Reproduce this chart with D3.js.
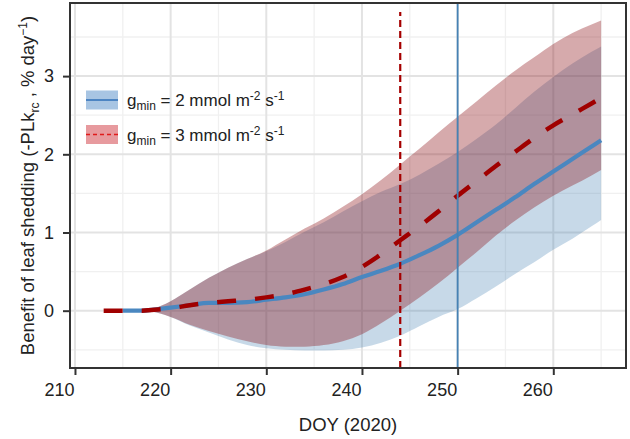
<!DOCTYPE html>
<html><head><meta charset="utf-8">
<script src="https://cdn.jsdelivr.net/npm/d3@7/dist/d3.min.js"></script>
<style>html,body{margin:0;padding:0;background:#fff;}svg{display:block;font-family:"Liberation Sans",Arial,sans-serif;}</style>
</head><body><svg id="c" width="630" height="439"></svg>
<script>
const days      = [213,215,217,218,220,222,224,226,228,230,232,234,236,238,240,242,244,246,248,250,252,254,256,258,260,262,264,265];
const mean2     = [0,0,0,0.01,0.04,0.07,0.1,0.1,0.11,0.14,0.17,0.21,0.27,0.34,0.43,0.51,0.6,0.71,0.83,0.97,1.13,1.29,1.45,1.62,1.78,1.94,2.1,2.18];
const lo2       = [0,0,0,-0.01,-0.08,-0.19,-0.28,-0.37,-0.44,-0.48,-0.5,-0.51,-0.51,-0.5,-0.47,-0.41,-0.32,-0.2,-0.08,0.02,0.16,0.31,0.47,0.62,0.78,0.92,1.08,1.16];
const hi2       = [0,0,0,0.02,0.12,0.27,0.42,0.55,0.66,0.76,0.88,1.01,1.13,1.27,1.4,1.52,1.62,1.74,1.88,2.03,2.2,2.38,2.59,2.8,2.99,3.16,3.31,3.38];
const mean3     = [0,0,0,0.01,0.03,0.07,0.1,0.12,0.14,0.17,0.21,0.27,0.34,0.43,0.56,0.72,0.9,1.08,1.27,1.47,1.66,1.85,2.03,2.21,2.37,2.51,2.65,2.72];
const lo3       = [0,0,0,-0.01,-0.08,-0.18,-0.26,-0.33,-0.39,-0.44,-0.46,-0.46,-0.44,-0.39,-0.3,-0.16,0.0,0.17,0.35,0.55,0.75,0.96,1.15,1.32,1.47,1.6,1.73,1.8];
const hi3       = [0,0,0,0.02,0.12,0.27,0.42,0.55,0.66,0.77,0.91,1.05,1.18,1.33,1.49,1.67,1.87,2.07,2.28,2.48,2.68,2.88,3.07,3.24,3.41,3.55,3.66,3.71];
const vlineDays = [250, 244];
const xTicks = [210,220,230,240,250,260];
const yTicks = [0,1,2,3];
const xMinor = [215,225,235,245,255,265];
const yMinor = [-0.5,0.5,1.5,2.5,3.5];

const svg = d3.select("#c");
const L=70, R=626, T=3, B=368;
const x = d3.scaleLinear().domain([209.48,267.6]).range([L,R]);
const y = d3.scaleLinear().domain([-0.733,3.935]).range([B,T]);

const g = svg.append("g");
// grid
g.selectAll(".mnx").data(xMinor).join("line").attr("x1",d=>x(d)).attr("x2",d=>x(d)).attr("y1",T).attr("y2",B).attr("stroke","#f0f0f0").attr("stroke-width",1.3);
g.selectAll(".mny").data(yMinor).join("line").attr("y1",d=>y(d)).attr("y2",d=>y(d)).attr("x1",L).attr("x2",R).attr("stroke","#f0f0f0").attr("stroke-width",1.3);
g.selectAll(".mjx").data(xTicks).join("line").attr("x1",d=>x(d)).attr("x2",d=>x(d)).attr("y1",T).attr("y2",B).attr("stroke","#e3e3e3").attr("stroke-width",2);
g.selectAll(".mjy").data(yTicks).join("line").attr("y1",d=>y(d)).attr("y2",d=>y(d)).attr("x1",L).attr("x2",R).attr("stroke","#e3e3e3").attr("stroke-width",2);

const rows = days.map((d,i)=>({d, m2:mean2[i], l2:lo2[i], h2:hi2[i], m3:mean3[i], l3:lo3[i], h3:hi3[i]}));
const curve = d3.curveMonotoneX;
const area2 = d3.area().x(r=>x(r.d)).y0(r=>y(r.l2)).y1(r=>y(r.h2)).curve(curve);
const area3 = d3.area().x(r=>x(r.d)).y0(r=>y(r.l3)).y1(r=>y(r.h3)).curve(curve);
g.append("path").attr("d",area2(rows)).attr("fill","#4682b4").attr("fill-opacity",0.3);
g.append("path").attr("d",area3(rows)).attr("fill","#8a0c12").attr("fill-opacity",0.35);

const line2 = d3.line().x(r=>x(r.d)).y(r=>y(r.m2)).curve(curve);
const line3 = d3.line().x(r=>x(r.d)).y(r=>y(r.m3)).curve(curve);
g.append("path").attr("d",line2(rows.filter(r=>r.d>=215))).attr("fill","none").attr("stroke","#4a87c0").attr("stroke-width",4.2);
g.append("path").attr("d",line3(rows)).attr("fill","none").attr("stroke","#a00000").attr("stroke-width",4.5).attr("stroke-dasharray","19,19");

// vertical lines
g.append("line").attr("x1",x(vlineDays[0])).attr("x2",x(vlineDays[0])).attr("y1",T).attr("y2",B).attr("stroke","#4682b4").attr("stroke-width",1.8);
g.append("line").attr("x1",x(vlineDays[1])).attr("x2",x(vlineDays[1])).attr("y1",B).attr("y2",T+9).attr("stroke","#a50000").attr("stroke-width",2.2).attr("stroke-dasharray","7,4");

// panel border
svg.append("rect").attr("x",L).attr("y",T).attr("width",R-L).attr("height",B-T).attr("fill","none").attr("stroke","#333").attr("stroke-width",2);

// axes
const xa = svg.append("g").attr("transform",`translate(0,${B})`).call(d3.axisBottom(x).tickValues(xTicks).tickSize(7).tickPadding(5).tickFormat(d3.format("d")));
xa.select(".domain").remove();
xa.selectAll(".tick line").attr("stroke","#333").attr("stroke-width",2);
xa.selectAll(".tick text").attr("fill","#222").style("font-size","18px").attr("dx",-16).attr("dy","0.9em");
const ya = svg.append("g").attr("transform",`translate(${L},0)`).call(d3.axisLeft(y).tickValues(yTicks).tickSize(7).tickPadding(9).tickFormat(d3.format("d")));
ya.select(".domain").remove();
ya.selectAll(".tick line").attr("stroke","#333").attr("stroke-width",2);
ya.selectAll(".tick text").attr("fill","#222").style("font-size","18px");

// axis titles
svg.append("text").attr("x",(L+R)/2).attr("y",431).attr("text-anchor","middle").attr("fill","#222").style("font-size","18.5px").text("DOY (2020)");
const yt = svg.append("text").attr("transform",`translate(34,${(T+B)/2}) rotate(-90)`).attr("text-anchor","middle").attr("fill","#222").style("font-size","18.5px");
yt.append("tspan").text("Benefit of leaf shedding (-PLk");
yt.append("tspan").attr("dy",5).style("font-size","12px").text("rc");
yt.append("tspan").attr("dy",-5).text(" , % day");
yt.append("tspan").attr("dy",-7).style("font-size","12px").text("−1");
yt.append("tspan").attr("dy",7).text(")");

// legend
const legendLabels = ["2","3"];
const legendFill = ["#a8c5e3","#e79a9e"];
const legendStroke = ["#2f6fb8","#e01b1b"];
const legendDash = [null,"4,3"];
const leg = svg.append("g");
legendLabels.forEach((lab,i)=>{
  const cy = 100 + i*34.5;
  leg.append("rect").attr("x",86).attr("y",cy-9.5).attr("width",32).attr("height",19).attr("fill",legendFill[i]);
  leg.append("line").attr("x1",86).attr("x2",118).attr("y1",cy).attr("y2",cy).attr("stroke",legendStroke[i]).attr("stroke-width",1.5).attr("stroke-dasharray",legendDash[i]);
  const t = leg.append("text").attr("x",127).attr("y",cy+6).attr("fill","#222").style("font-size","17px");
  t.append("tspan").text("g");
  t.append("tspan").attr("dy",4).style("font-size","12px").text("min");
  t.append("tspan").attr("dy",-4).text(` = ${lab} mmol m`);
  t.append("tspan").attr("dy",-6).style("font-size","12px").text("-2");
  t.append("tspan").attr("dy",6).text(" s");
  t.append("tspan").attr("dy",-6).style("font-size","12px").text("-1");
});
</script></body></html>
